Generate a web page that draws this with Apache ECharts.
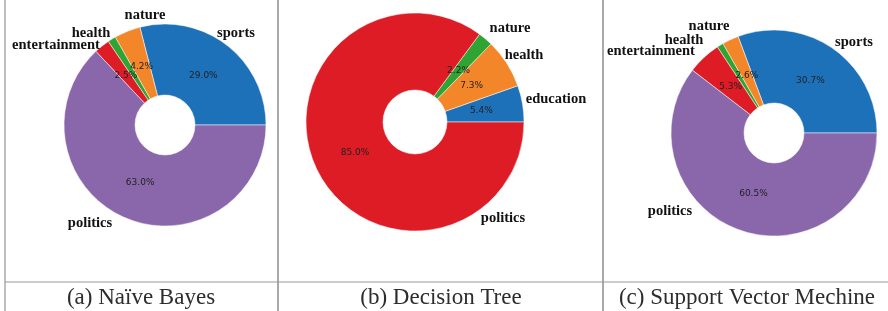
<!DOCTYPE html>
<html>
<head>
<meta charset="utf-8">
<script src="https://cdn.jsdelivr.net/npm/echarts@6/dist/echarts.min.js"></script>
<style>
  html, body { margin: 0; padding: 0; background: #fff; }
  #pies { width: 888px; height: 311px; }
</style>
</head>
<body>
<div id="pies"></div>
<script>
// data (percent)
var catsA = ['sports', 'nature', 'health', 'entertainment', 'politics'];
var valsA = [29.0, 4.2, 1.3, 2.5, 63.0];
var catsB = ['education', 'health', 'nature', 'politics'];
var valsB = [5.4, 7.3, 2.2, 85.0];
var catsC = ['sports', 'nature', 'health', 'entertainment', 'politics'];
var valsC = [30.7, 2.6, 1.0, 5.3, 60.5];
var captions = ['(a) Naïve Bayes', '(b) Decision Tree', '(c) Support Vector Mechine'];

// colours follow slice order in each panel
var colsA = ['#1c71b8', '#f4862a', '#2fa433', '#dd1c26', '#8a67ab'];
var colsB = ['#1c71b8', '#f4862a', '#2fa433', '#dd1c26'];
var colsC = ['#1c71b8', '#f4862a', '#2fa433', '#dd1c26', '#8a67ab'];

// where the name texts sit in the figure (they were placed by hand there)
var spotsA = [[236, 33], [145, 15], [91, 33], [56, 45], [90, 223]];
var spotsB = [[556, 99], [524, 55], [510, 28], [503, 218]];
var spotsC = [[854, 42], [709, 26], [684, 40], [651, 51], [670, 211]];

var myChart = echarts.init(document.getElementById('pies'), null, {renderer: 'canvas'});

function toData(cats, vals, cols) {
    var out = [];
    for (var i = 0; i < cats.length; i++) {
        var d = {name: cats[i], value: vals[i]};
        if (cols) d.itemStyle = {color: cols[i]};
        out.push(d);
    }
    return out;
}

// one ring with the names + a clear ring that only carries the % texts
function ring(cats, vals, cols, spots, cx, cy, r, r0) {
    return [{
        type: 'pie',
        center: [cx, cy],
        radius: [r0, r],
        startAngle: 0,
        clockwise: false,
        avoidLabelOverlap: false,
        silent: true,
        itemStyle: {borderColor: '#fff', borderWidth: 0.5},
        label: {
            position: 'outside',
            formatter: '{b}',
            fontFamily: 'Liberation Serif',
            fontWeight: 'bold',
            fontSize: 14.5,
            color: '#111'
        },
        labelLine: {show: false, length: 9, length2: 0},
        labelLayout: function (p) {
            var s = spots[p.dataIndex];
            return {x: s[0], y: s[1], align: 'center', verticalAlign: 'middle'};
        },
        data: toData(cats, vals, cols)
    }, {
        type: 'pie',
        center: [cx, cy],
        radius: [r * 0.18, r],
        startAngle: 0,
        clockwise: false,
        avoidLabelOverlap: false,
        silent: true,
        itemStyle: {color: 'rgba(0,0,0,0)', borderWidth: 0},
        label: {
            position: 'inside',
            formatter: function (p) { return p.value.toFixed(1) + '%'; },
            fontFamily: 'DejaVu Sans',
            fontSize: 9,
            color: '#222'
        },
        labelLine: {show: false},
        data: toData(cats, vals, null)
    }];
}

var series = [].concat(
    ring(catsA, valsA, colsA, spotsA, 165, 125, 101, 30),
    ring(catsB, valsB, colsB, spotsB, 415, 122, 109, 32),
    ring(catsC, valsC, colsC, spotsC, 774, 133, 103, 30)
);

var capX = [136, 436, 742];
var titles = [];
for (var i = 0; i < captions.length; i++) {
    titles.push({
        text: captions[i],
        left: capX[i],
        top: 281,
        textAlign: 'center',
        textStyle: {fontFamily: 'Liberation Serif', fontWeight: 'normal', fontSize: 23, color: '#2d2d2d'}
    });
}

var lineStyle = {stroke: '#8c8c8c', lineWidth: 1.5};
myChart.setOption({
    animation: false,
    title: titles,
    series: series,
    graphic: [
        {type: 'line', shape: {x1: 5, y1: 0, x2: 5, y2: 311}, style: {stroke: '#aaa', lineWidth: 1.5}},
        {type: 'line', shape: {x1: 278, y1: 0, x2: 278, y2: 311}, style: lineStyle},
        {type: 'line', shape: {x1: 603, y1: 0, x2: 603, y2: 311}, style: lineStyle},
        {type: 'line', shape: {x1: 5, y1: 282, x2: 888, y2: 282}, style: {stroke: '#999', lineWidth: 1.2}}
    ]
});
</script>
</body>
</html>
